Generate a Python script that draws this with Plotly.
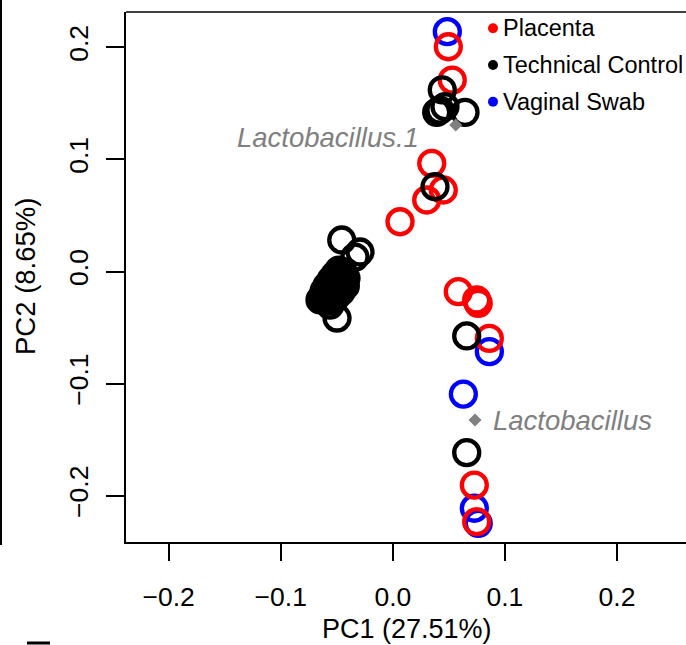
import plotly.graph_objects as go

# ---- data ----
categories = ["Placenta", "Technical Control", "Vaginal Swab"]
colors = ["#FF0000", "#000000", "#0000FF"]

placenta_x = [0.0495, 0.0530, 0.0347, 0.0450, 0.0302, 0.0064, 0.0584, 0.0748, 0.0762, 0.0861, 0.0727, 0.0748]
placenta_y = [0.2005, 0.1708, 0.0965, 0.0727, 0.0638, 0.0444, -0.0180, -0.0254, -0.0284, -0.0596, -0.1905, -0.2232]

swab_x = [0.0486, 0.0861, 0.0629, 0.0727, 0.0762]
swab_y = [0.2139, -0.0715, -0.1093, -0.2112, -0.2246]

control_x = [0.0441, 0.0465, 0.0391, 0.0644, 0.0420, 0.0376,
             -0.0456, -0.0293, -0.0338,
             -0.0445, -0.0472, -0.0498, -0.0525, -0.0552, -0.0579, -0.0605, -0.0623,
             -0.0418, -0.0454, -0.0489, -0.0525, -0.0561, -0.0588,
             -0.0481, -0.0516, -0.0552, -0.0588, -0.0614,
             -0.0507, -0.0543, -0.0424, -0.0463, -0.0650, -0.0561,
             -0.0498, 0.0659, 0.0659]
control_y = [0.1620, 0.1470, 0.1420, 0.1420, 0.1440, 0.0756,
             0.0281, 0.0174, 0.0129,
             -0.0004, -0.0040, -0.0076, -0.0112, -0.0147, -0.0183, -0.0218, -0.0245,
             -0.0058, -0.0103, -0.0147, -0.0183, -0.0218, -0.0254,
             0.0013, -0.0031, -0.0076, -0.0129, -0.0174,
             -0.0227, -0.0263, -0.0129, -0.0183, -0.0254, -0.0299,
             -0.0415, -0.0575, -0.1616]

taxa = ["Lactobacillus.1", "Lactobacillus"]
taxa_x = [0.0561, 0.0733]
taxa_y = [0.1307, -0.1325]

x_ticks = [-0.2, -0.1, 0.0, 0.1, 0.2]
y_ticks = [-0.2, -0.1, 0.0, 0.1, 0.2]
x_title = "PC1 (27.51%)"
y_title = "PC2 (8.65%)"

# ---- layout geometry ----
W, H = 686, 645
L, R, T, B = 126, 0, 12, 103
PW, PH = W - L - R, H - T - B

def px_x(p):
    return (p - L) / PW

def px_y(p):
    return (H - B - p) / PH

FONT = "Liberation Sans, Arial, Helvetica, sans-serif"

fig = go.Figure()

groups = [(swab_x, swab_y, colors[2]), (placenta_x, placenta_y, colors[0]), (control_x, control_y, colors[1])]
for gx, gy, col in groups:
    fig.add_trace(go.Scatter(
        x=gx, y=gy, mode="markers", showlegend=False, hoverinfo="skip",
        marker=dict(symbol="circle-open", size=25, color=col, line=dict(width=4.3, color=col)),
    ))

fig.add_trace(go.Scatter(
    x=taxa_x, y=taxa_y, mode="markers", showlegend=False, hoverinfo="skip",
    marker=dict(symbol="diamond", size=10, color="#808080"),
))

annotations = []
# taxon labels
annotations.append(dict(x=taxa_x[0], y=taxa_y[0], xref="x", yref="y", text="<i>" + taxa[0] + "</i>",
                        showarrow=False, xanchor="right", yanchor="middle", xshift=-35, yshift=-13,
                        font=dict(family=FONT, size=27.5, color="#808080")))
annotations.append(dict(x=taxa_x[1], y=taxa_y[1], xref="x", yref="y", text="<i>" + taxa[1] + "</i>",
                        showarrow=False, xanchor="left", yanchor="middle", xshift=16, yshift=0,
                        font=dict(family=FONT, size=27.5, color="#808080")))

# axis titles
annotations.append(dict(x=px_x(407), y=px_y(629), xref="paper", yref="paper", text=x_title,
                        showarrow=False, xanchor="center", yanchor="middle",
                        font=dict(family=FONT, size=27, color="black")))
annotations.append(dict(x=px_x(25), y=px_y(277), xref="paper", yref="paper", text=y_title, textangle=-90,
                        showarrow=False, xanchor="center", yanchor="middle",
                        font=dict(family=FONT, size=27.5, color="black")))

shapes = []
# legend
leg_y = [28.3, 65, 101.7]
for name, col, yy in zip(categories, colors, leg_y):
    r = 5
    shapes.append(dict(type="circle", xref="paper", yref="paper",
                       x0=px_x(493 - r), x1=px_x(493 + r), y0=px_y(yy + r), y1=px_y(yy - r),
                       fillcolor=col, line=dict(width=0)))
    annotations.append(dict(x=px_x(501), y=px_y(yy), xref="paper", yref="paper", text=name,
                            showarrow=False, xanchor="left", yanchor="middle",
                            font=dict(family=FONT, size=23.5, color="black")))

# top box line
shapes.append(dict(type="line", xref="paper", yref="paper", x0=0, x1=1, y0=1, y1=1,
                   line=dict(color="black", width=1.6)))
# cropped neighbour-panel fragments
shapes.append(dict(type="line", xref="paper", yref="paper", x0=px_x(1), x1=px_x(1), y0=px_y(0), y1=px_y(545),
                   line=dict(color="black", width=2)))
shapes.append(dict(type="line", xref="paper", yref="paper", x0=px_x(27), x1=px_x(50), y0=px_y(643), y1=px_y(643),
                   line=dict(color="black", width=3)))

x0px = 392.85
sx = 1120.8
y0px = 271.5
sy = 1121.0

fig.update_layout(
    width=W, height=H,
    margin=dict(l=L, r=R, t=T, b=B, pad=0),
    paper_bgcolor="white", plot_bgcolor="white",
    font=dict(family=FONT, size=26, color="black"),
    showlegend=False,
    annotations=annotations,
    shapes=shapes,
    xaxis=dict(range=[(L - x0px) / sx, (W - R - x0px) / sx], tickvals=x_ticks, tickformat=".1f",
               showgrid=False, zeroline=False, showline=True, linecolor="black", linewidth=1.6,
               ticks="outside", ticklen=17, tickwidth=1.6, tickcolor="black", ticklabelstandoff=13,
               tickfont=dict(family=FONT, size=26.5, color="black")),
    yaxis=dict(range=[(y0px - (H - B)) / sy, (y0px - T) / sy], tickvals=y_ticks, tickformat=".1f",
               showgrid=False, zeroline=False, showline=True, linecolor="black", linewidth=1.6,
               ticks="outside", ticklen=18, tickwidth=1.6, tickcolor="black", tickangle=-90,
               ticklabelstandoff=8,
               tickfont=dict(family=FONT, size=26.5, color="black")),
)

fig.write_html("out.html", config={"displayModeBar": False},
               post_script="document.body.style.margin='0';document.body.style.overflow='hidden';")
